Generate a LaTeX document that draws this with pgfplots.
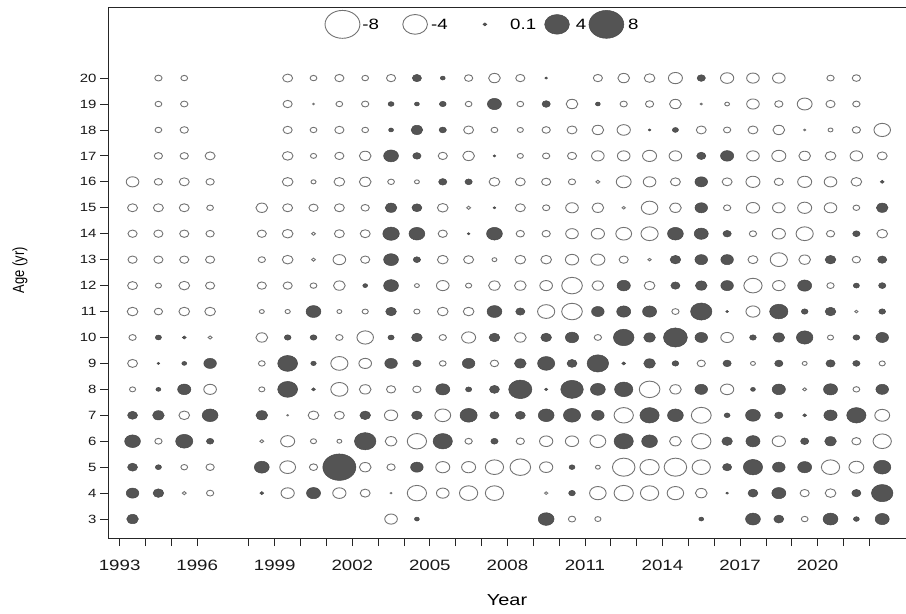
\documentclass[border=0pt]{standalone}
\usepackage{fontspec}
\setmainfont{Liberation Sans}
\usepackage{graphicx}
\usepackage{pgfplots}
\usepackage{pgfplotstable}
\pgfplotsset{compat=1.18}
\newcommand{\sx}[1]{\scalebox{1.25}[1]{#1}}

\pgfplotstableread{
year age v
1994 20 -0.35
1995 20 -0.30
1999 20 -0.65
2000 20 -0.30
2001 20 -0.55
2002 20 -0.30
2003 20 -0.55
2004 20 0.55
2005 20 0.16
2006 20 -0.45
2007 20 -0.90
2008 20 -0.55
2009 20 0.05
2011 20 -0.55
2012 20 -0.90
2013 20 -0.75
2014 20 -1.30
2015 20 0.45
2016 20 -1.16
2017 20 -1.05
2018 20 -1.05
2020 20 -0.35
2021 20 -0.45
1994 19 -0.30
1995 19 -0.35
1999 19 -0.55
2000 19 -0.02
2001 19 -0.30
2002 19 -0.35
2003 19 0.23
2004 19 0.16
2005 19 0.30
2006 19 -0.30
2007 19 1.30
2008 19 -0.30
2009 19 0.45
2010 19 -0.90
2011 19 0.16
2012 19 -0.35
2013 19 -0.45
2014 19 -0.90
2015 19 -0.03
2016 19 -0.15
2017 19 -1.05
2018 19 -0.45
2019 19 -1.46
2020 19 -0.55
2021 19 -0.35
1994 18 -0.30
1995 18 -0.45
1999 18 -0.55
2000 18 -0.30
2001 18 -0.55
2002 18 -0.30
2003 18 0.16
2004 18 0.90
2005 18 0.35
2006 18 -0.65
2007 18 -0.30
2008 18 -0.25
2009 18 -0.45
2010 18 -0.65
2011 18 -0.90
2012 18 -1.16
2013 18 0.05
2014 18 0.25
2015 18 -0.65
2016 18 -0.35
2017 18 -0.65
2018 18 -0.90
2019 18 -0.03
2020 18 -0.16
2021 18 -0.45
2022 18 -1.80
1994 17 -0.45
1995 17 -0.45
1996 17 -0.65
1999 17 -0.75
2000 17 -0.25
2001 17 -0.55
2002 17 -0.90
2003 17 1.46
2004 17 0.45
2005 17 -0.55
2006 17 -0.90
2007 17 0.05
2008 17 -0.25
2009 17 -0.35
2010 17 -0.55
2011 17 -1.05
2012 17 -1.05
2013 17 -1.30
2014 17 -1.05
2015 17 0.55
2016 17 1.16
2017 17 -1.05
2018 17 -1.30
2019 17 -0.90
2020 17 -0.75
2021 17 -1.05
2022 17 -0.65
1993 16 -1.05
1994 16 -0.45
1995 16 -0.65
1996 16 -0.45
1999 16 -0.75
2000 16 -0.17
2001 16 -0.75
2002 16 -0.90
2003 16 -0.30
2004 16 -0.16
2005 16 0.45
2006 16 0.35
2007 16 -0.75
2008 16 -0.65
2009 16 -0.55
2010 16 -0.35
2011 16 -0.10
2012 16 -1.46
2013 16 -1.05
2014 16 -0.65
2015 16 1.05
2016 16 -0.65
2017 16 -1.30
2018 16 -0.55
2019 16 -1.30
2020 16 -1.05
2021 16 -0.75
2022 16 0.10
1993 15 -0.65
1994 15 -0.65
1995 15 -0.65
1996 15 -0.30
1998 15 -0.90
1999 15 -0.65
2000 15 -0.55
2001 15 -0.65
2002 15 -0.45
2003 15 0.90
2004 15 0.65
2005 15 -0.75
2006 15 -0.10
2007 15 0.05
2008 15 -0.65
2009 15 -0.35
2010 15 -1.05
2011 15 -0.90
2012 15 -0.07
2013 15 -1.80
2014 15 -0.90
2015 15 1.05
2016 15 -0.35
2017 15 -1.16
2018 15 -1.05
2019 15 -1.30
2020 15 -1.05
2021 15 -0.30
2022 15 0.90
1993 14 -0.55
1994 14 -0.55
1995 14 -0.55
1996 14 -0.45
1998 14 -0.55
1999 14 -0.75
2000 14 -0.10
2001 14 -0.65
2002 14 -0.65
2003 14 1.80
2004 14 1.65
2005 14 -0.55
2006 14 0.05
2007 14 1.65
2008 14 -0.45
2009 14 -0.45
2010 14 -1.05
2011 14 -1.16
2012 14 -1.65
2013 14 -1.95
2014 14 1.65
2015 14 1.30
2016 14 0.45
2017 14 -0.35
2018 14 -1.16
2019 14 -1.95
2020 14 -0.45
2021 14 0.35
2022 14 -0.75
1993 13 -0.55
1994 13 -0.55
1995 13 -0.55
1996 13 -0.55
1998 13 -0.35
1999 13 -0.75
2000 13 -0.10
2001 13 -1.05
2002 13 -0.55
2003 13 1.46
2004 13 0.35
2005 13 -0.75
2006 13 -0.65
2007 13 -0.16
2008 13 -0.75
2009 13 -0.75
2010 13 -1.16
2011 13 -1.30
2012 13 -0.55
2013 13 -0.07
2014 13 0.75
2015 13 1.05
2016 13 1.05
2017 13 -0.65
2018 13 -1.95
2019 13 -0.90
2020 13 0.75
2021 13 -0.45
2022 13 0.55
1993 12 -0.65
1994 12 -0.25
1995 12 -0.75
1996 12 -0.55
1998 12 -0.55
1999 12 -0.55
2000 12 -0.30
2001 12 -0.90
2002 12 0.16
2003 12 1.46
2004 12 -0.16
2005 12 -1.05
2006 12 -0.25
2007 12 -0.90
2008 12 -0.90
2009 12 -1.05
2010 12 -2.80
2011 12 -0.90
2012 12 1.16
2013 12 -0.75
2014 12 0.55
2015 12 0.90
2016 12 1.05
2017 12 -2.20
2018 12 -1.05
2019 12 1.30
2020 12 -0.35
2021 12 0.25
2022 12 0.35
1993 11 -0.75
1994 11 -0.45
1995 11 -0.75
1996 11 -0.75
1998 11 -0.16
1999 11 -0.18
2000 11 1.46
2001 11 -0.16
2002 11 -0.25
2003 11 0.75
2004 11 -0.25
2005 11 -0.75
2006 11 -0.75
2007 11 1.46
2008 11 0.55
2009 11 -1.95
2010 11 -2.80
2011 11 1.05
2012 11 1.30
2013 11 1.30
2014 11 -0.35
2015 11 3.00
2016 11 0.05
2017 11 -1.30
2018 11 2.20
2019 11 0.30
2020 11 0.75
2021 11 -0.07
2022 11 0.30
1993 10 -0.35
1994 10 0.25
1995 10 0.10
1996 10 -0.10
1998 10 -0.90
1999 10 0.30
2000 10 0.30
2001 10 -0.35
2002 10 -1.80
2003 10 0.25
2004 10 0.75
2005 10 -0.35
2006 10 -1.30
2007 10 0.75
2008 10 -0.90
2009 10 0.75
2010 10 1.16
2011 10 -0.35
2012 10 2.80
2013 10 0.90
2014 10 3.75
2015 10 1.05
2016 10 -1.05
2017 10 0.30
2018 10 0.90
2019 10 1.80
2020 10 -0.25
2021 10 0.30
2022 10 1.05
1993 9 -0.65
1994 9 0.05
1995 9 0.16
1996 9 1.05
1998 9 -0.30
1999 9 2.60
2000 9 0.20
2001 9 -1.95
2002 9 -1.05
2003 9 1.05
2004 9 0.45
2005 9 -0.30
2006 9 1.05
2007 9 -0.45
2008 9 0.90
2009 9 1.95
2010 9 0.65
2011 9 3.05
2012 9 0.10
2013 9 0.90
2014 9 0.30
2015 9 -0.45
2016 9 0.45
2017 9 -0.16
2018 9 0.45
2019 9 -0.16
2020 9 0.55
2021 9 0.35
2022 9 -0.25
1993 8 -0.25
1994 8 0.16
1995 8 1.16
1996 8 -1.05
1998 8 -0.25
1999 8 2.60
2000 8 0.10
2001 8 -1.95
2002 8 -0.90
2003 8 -0.55
2004 8 -0.45
2005 8 1.30
2006 8 0.25
2007 8 0.65
2008 8 3.55
2009 8 0.07
2010 8 3.35
2011 8 1.46
2012 8 2.20
2013 8 -2.80
2014 8 -0.90
2015 8 1.05
2016 8 -1.16
2017 8 0.16
2018 8 1.16
2019 8 -0.10
2020 8 1.30
2021 8 -0.30
2022 8 1.05
1993 7 0.65
1994 7 0.90
1995 7 -0.75
1996 7 1.65
1998 7 0.90
1999 7 -0.02
2000 7 -0.75
2001 7 -0.65
2002 7 0.75
2003 7 -1.16
2004 7 0.75
2005 7 -1.65
2006 7 1.95
2007 7 0.55
2008 7 0.65
2009 7 1.65
2010 7 1.95
2011 7 1.05
2012 7 -2.45
2013 7 2.45
2014 7 1.65
2015 7 -2.60
2016 7 0.23
2017 7 1.46
2018 7 0.45
2019 7 0.10
2020 7 1.16
2021 7 2.45
2022 7 -1.46
1993 6 1.65
1994 6 -0.35
1995 6 1.95
1996 6 0.35
1998 6 -0.10
1999 6 -1.30
2000 6 -0.25
2001 6 -0.16
2002 6 3.05
2003 6 -0.90
2004 6 -2.45
2005 6 2.45
2006 6 -0.35
2007 6 0.35
2008 6 -0.45
2009 6 -1.16
2010 6 -1.16
2011 6 -1.65
2012 6 2.45
2013 6 1.65
2014 6 -0.90
2015 6 -2.45
2016 6 0.75
2017 6 1.30
2018 6 -1.16
2019 6 0.45
2020 6 0.90
2021 6 -0.55
2022 6 -2.20
1993 5 0.65
1994 5 0.25
1995 5 -0.30
1996 5 -0.45
1998 5 1.46
1999 5 -1.65
2000 5 -0.45
2001 5 7.20
2002 5 -0.90
2003 5 -0.45
2004 5 1.05
2005 5 -1.30
2006 5 -1.30
2007 5 -2.20
2008 5 -2.80
2009 5 -1.16
2010 5 0.23
2011 5 -0.16
2012 5 -3.35
2013 5 -2.45
2014 5 -3.35
2015 5 -2.20
2016 5 0.55
2017 5 2.45
2018 5 1.05
2019 5 1.30
2020 5 -2.20
2021 5 -1.46
2022 5 1.95
1993 4 1.05
1994 4 0.75
1995 4 -0.10
1996 4 -0.35
1998 4 0.10
1999 4 -1.16
2000 4 1.30
2001 4 -1.16
2002 4 -0.65
2003 4 -0.02
2004 4 -2.45
2005 4 -1.05
2006 4 -2.20
2007 4 -2.20
2009 4 -0.07
2010 4 0.30
2011 4 -1.80
2012 4 -2.45
2013 4 -2.20
2014 4 -1.80
2015 4 -0.90
2016 4 0.05
2017 4 0.65
2018 4 1.30
2019 4 -0.55
2020 4 -0.75
2021 4 0.55
2022 4 3.05
1993 3 0.90
2003 3 -1.05
2004 3 0.16
2009 3 1.65
2010 3 -0.35
2011 3 -0.25
2015 3 0.16
2017 3 1.46
2018 3 0.65
2019 3 -0.30
2020 3 1.46
2021 3 0.23
2022 3 1.30
}\resid

\pgfplotstableread{
x v
2001.62 -8
2004.43 -4
2007.13 0.1
2009.92 4
2011.83 8
}\legtab

\pgfplotsset{
  negb/.style={only marks, scatter, mark=*,
    scatter/use mapped color={draw=black!55, fill=white},
    visualization depends on={4.95*sqrt(abs(\thisrow{v}))\as\msize},
    scatter/@pre marker code/.append style={/tikz/mark size=\msize},
    mark options={xscale=1.25},
    line width=0.9pt, restrict expr to domain={\thisrow{v}}{-100:0}},
  posb/.style={only marks, scatter, mark=*,
    scatter/use mapped color={draw=black!72, fill=black!67},
    visualization depends on={4.95*sqrt(abs(\thisrow{v}))\as\msize},
    scatter/@pre marker code/.append style={/tikz/mark size=\msize},
    mark options={xscale=1.25},
    line width=0.5pt, restrict expr to domain={\thisrow{v}}{0:100}},
}

\begin{document}
\begin{tikzpicture}
\begin{axis}[
  at={(0,0)}, anchor=south west,
  width=798bp, height=531bp, scale only axis,
  xmin=1992.55, xmax=2023.42, ymin=2.27, ymax=22.74,
  clip=false,
  axis x line*=bottom, axis y line*=left,
  axis line style={line width=0.8pt, black!85},
  tick align=outside, major tick length=8bp,
  tick style={line width=0.8pt, black!85},
  xtick={1993,1994,1995,1996,1998,1999,...,2022},
  xticklabels={\sx{1993},{},{},\sx{1996},{},\sx{1999},{},{},\sx{2002},{},{},\sx{2005},{},{},\sx{2008},{},{},\sx{2011},{},{},\sx{2014},{},{},\sx{2017},{},{},\sx{2020},{},{}},
  ytick={3,...,20},
  yticklabels={\sx{3},\sx{4},\sx{5},\sx{6},\sx{7},\sx{8},\sx{9},\sx{10},\sx{11},\sx{12},\sx{13},\sx{14},\sx{15},\sx{16},\sx{17},\sx{18},\sx{19},\sx{20}},
  xticklabel style={font=\fontsize{15}{15}\selectfont, text=black!90, yshift=-11bp},
  yticklabel style={font=\fontsize{12}{12}\selectfont, text=black!90},
]
\addplot[negb] table[x expr=\thisrow{year}+0.5, y=age]{\resid};
\addplot[posb] table[x expr=\thisrow{year}+0.5, y=age]{\resid};
\addplot[negb] table[x=x, y expr=22.07]{\legtab};
\addplot[posb] table[x=x, y expr=22.07]{\legtab};
\draw[line width=0.8pt, black!85] (rel axis cs:0,1) -- (rel axis cs:1,1);
\begin{scope}[every node/.style={anchor=west, inner sep=0pt, font=\fontsize{15}{15}\selectfont}]
\node at (axis cs:2002.38,22.07) {\sx{-8}};
\node at (axis cs:2005.04,22.07) {\sx{-4}};
\node at (axis cs:2008.10,22.07) {\sx{0.1}};
\node at (axis cs:2010.64,22.07) {\sx{4}};
\node at (axis cs:2012.66,22.07) {\sx{8}};
\end{scope}
\end{axis}
\node[font=\fontsize{16}{16}\selectfont] at (399bp,-62bp) {\sx{Year}};
\node[font=\fontsize{13}{13}\selectfont] at (-88bp,268bp) {\scalebox{1.25}[1]{\rotatebox{90}{Age (yr)}}};
\pgfresetboundingbox
\path[use as bounding box] (-108bp,-76bp) rectangle (798bp,538bp);
\end{tikzpicture}
\end{document}
